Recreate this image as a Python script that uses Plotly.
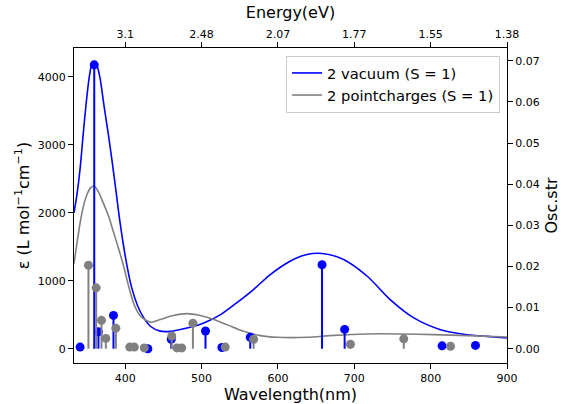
import plotly.graph_objects as go

# Broadened spectra, wavelength nm -> epsilon
vac_curve_wl = [333, 337, 341, 345, 349, 353, 356, 359.5, 363, 367, 372, 378, 383, 388, 393, 400, 408, 416, 424,
                433, 446, 459, 481, 503, 525, 546, 568, 590, 616, 638, 658, 686, 717, 747, 778, 813, 848, 874, 900]
vac_curve_eps = [2000, 2280, 2650, 3150, 3620, 4000, 4170, 4225, 4170, 3990, 3600, 3150, 2750, 2320, 1880, 1370,
                 920, 640, 460, 330, 258, 255, 305, 379, 501, 674, 870, 1091, 1288, 1386, 1401, 1313, 1066, 723,
                 453, 280, 206, 181, 158]

pc_curve_wl = [333, 337, 341, 345, 350, 355, 359, 364, 370, 378, 385, 392, 398, 405, 412, 420, 433, 446, 463, 481,
               498, 516, 533, 555, 577, 599, 638, 673, 717, 760, 804, 848, 900]
pc_curve_eps = [1250, 1560, 1850, 2080, 2270, 2370, 2394, 2330, 2180, 1960, 1706, 1450, 1214, 900, 640, 481, 390,
                428, 487, 516, 487, 428, 354, 255, 192, 167, 167, 196, 217, 217, 206, 192, 172]

# Stick spectra (oscillator strengths)
vac_wl = [341, 359.5, 365, 384.7, 429.7, 460.3, 505.2, 526.7, 563.8, 657.8, 687.4, 815, 858.7]
vac_f = [0.0004, 0.0690, 0.0041, 0.0081, 0.0000, 0.0023, 0.0043, 0.0003, 0.0028, 0.0204, 0.0047, 0.0007, 0.0008]

pc_wl = [351.9, 362, 369, 374.7, 387.8, 406, 412, 425, 461, 467.7, 474, 488.7, 531, 568.2, 695, 764.8, 826]
pc_f = [0.0203, 0.0148, 0.0069, 0.0025, 0.0050, 0.0004, 0.0004, 0.0002, 0.0031, 0.0002, 0.0002, 0.0062,
        0.0004, 0.0023, 0.0011, 0.0024, 0.0006]

wl_ticks = [400, 500, 600, 700, 800, 900]
energy_labels = ["3.1", "2.48", "2.07", "1.77", "1.55", "1.38"]
eps_ticks = [0, 1000, 2000, 3000, 4000]
osc_ticks = [0.00, 0.01, 0.02, 0.03, 0.04, 0.05, 0.06, 0.07]

BLUE = "#0000ff"
GRAY = "#808080"
FONT = "DejaVu Sans"
XR = [333, 900]


def stems(xs, ys):
    sx, sy = [], []
    for x, y in zip(xs, ys):
        sx += [x, x, None]
        sy += [0, y, None]
    return sx, sy


fig = go.Figure()
fig.add_trace(go.Scatter(x=vac_curve_wl, y=vac_curve_eps, mode="lines",
                         line=dict(color=BLUE, width=1.6, shape="spline", smoothing=0.8),
                         name="2 vacuum (S = 1)"))
fig.add_trace(go.Scatter(x=pc_curve_wl, y=pc_curve_eps, mode="lines",
                         line=dict(color=GRAY, width=1.6, shape="spline", smoothing=0.8),
                         name="2 pointcharges (S = 1)"))

for xs, ys, c in [(vac_wl, vac_f, BLUE), (pc_wl, pc_f, GRAY)]:
    sx, sy = stems(xs, ys)
    fig.add_trace(go.Scatter(x=sx, y=sy, mode="lines", line=dict(color=c, width=2), xaxis="x2", yaxis="y2",
                             showlegend=False, hoverinfo="skip"))
    fig.add_trace(go.Scatter(x=xs, y=ys, mode="markers", marker=dict(color=c, size=9), xaxis="x2", yaxis="y2",
                             showlegend=False))

axis_common = dict(showline=True, linecolor="black", linewidth=1, ticks="outside", ticklen=5, tickwidth=1,
                   tickcolor="black", showgrid=False, zeroline=False, automargin=False,
                   tickfont=dict(size=11, color="black", family=FONT))

fig.update_layout(
    width=561, height=404,
    margin=dict(l=74, r=54, t=48, b=41),
    plot_bgcolor="white", paper_bgcolor="white",
    font=dict(family=FONT, color="black"),
    xaxis=dict(range=XR, tickvals=wl_ticks, title=dict(text="Wavelength(nm)", font=dict(size=16), standoff=2),
               **axis_common),
    xaxis2=dict(range=XR, tickvals=wl_ticks, ticktext=energy_labels, overlaying="x", side="top", anchor="y2",
                title=dict(text="Energy(eV)", font=dict(size=16), standoff=4), **axis_common),
    yaxis=dict(range=[-211, 4426], tickvals=eps_ticks,
               title=dict(text="ε (L mol<sup>−1</sup>cm<sup>−1</sup>)", font=dict(size=16), standoff=4), **axis_common),
    yaxis2=dict(range=[-0.00347, 0.0731], tickvals=osc_ticks, tickformat=".2f", overlaying="y", side="right",
                anchor="x2", title=dict(text="Osc.str", font=dict(size=16), standoff=8), **axis_common),
    legend=dict(x=0.984, y=0.975, xanchor="right", yanchor="top", bgcolor="rgba(255,255,255,0.8)",
                bordercolor="#cccccc", borderwidth=1, font=dict(size=14.7, family=FONT)),
    showlegend=True,
)

fig.write_html("out.html")
